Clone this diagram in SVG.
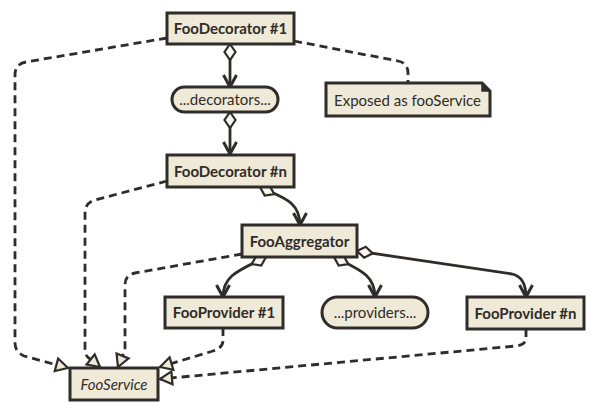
<svg xmlns="http://www.w3.org/2000/svg" width="597" height="412" viewBox="0 0 597 412">
<style>
.box{fill:#EFE9D7;stroke:#2F2C29;stroke-width:3}
.t{font-family:Lato,"Open Sans","Liberation Sans",sans-serif;font-size:15px;fill:#2F2C29;text-anchor:middle}
.b{font-weight:bold}
.dash{fill:none;stroke:#2F2C29;stroke-width:2.8;stroke-dasharray:8,5}
.solid{fill:none;stroke:#2F2C29;stroke-width:2.8}
</style>
<defs>
<marker id="dia" markerUnits="userSpaceOnUse" orient="auto" refX="0" refY="0" markerWidth="20" markerHeight="14" viewBox="-1 -7 20 14" overflow="visible">
<path d="M0,0 L8,-5.5 L16,0 L8,5.5 Z" fill="#FBF8F0" stroke="#2F2C29" stroke-width="2.2" stroke-dasharray="none"/>
</marker>
<marker id="arr" markerUnits="userSpaceOnUse" orient="auto" refX="0" refY="0" markerWidth="16" markerHeight="16" viewBox="-14 -8 16 16" overflow="visible">
<path d="M-12,-6.5 L0,0 L-12,6.5" fill="none" stroke="#2F2C29" stroke-width="3" stroke-linejoin="miter" stroke-dasharray="none"/>
</marker>
<marker id="tri" markerUnits="userSpaceOnUse" orient="auto" refX="0" refY="0" markerWidth="16" markerHeight="16" viewBox="-14 -8 16 16" overflow="visible">
<path d="M0,0 L-12,-6.5 L-12,6.5 Z" fill="#EFE9D7" stroke="#2F2C29" stroke-width="2.2" stroke-dasharray="none"/>
</marker>
</defs>
<g id="connectors">
<path class="dash" d="M167,38 L26,62 Q15,64 15,75 L15,343 Q15,352 24,356 L68,368" marker-end="url(#tri)"/>
<path class="dash" d="M294,41 L398,61 Q408,63 408,73 L408,83"/>
<path class="dash" d="M167,181 L95,200 Q85,203 85,213 L85,350 Q85,356 90,359 L100,367" marker-end="url(#tri)"/>
<path class="dash" d="M242,254 L135,273 Q125,275 125,285 L125,350 L118,367" marker-end="url(#tri)"/>
<path class="dash" d="M223,328 L223,340 Q223,348 213,351 L160,367" marker-end="url(#tri)"/>
<path class="dash" d="M526,329 L526,338 Q526,345 516,346 L160,379" marker-end="url(#tri)"/>
<path class="solid" d="M230,44 L230,87" marker-start="url(#dia)" marker-end="url(#arr)"/>
<path class="solid" d="M230,112 L230,154" marker-start="url(#dia)" marker-end="url(#arr)"/>
<path class="solid" d="M260,187 C280,197 300,200 300,225" marker-start="url(#dia)" marker-end="url(#arr)"/>
<path class="solid" d="M266,257 C240,270 223,275 223,297" marker-start="url(#dia)" marker-end="url(#arr)"/>
<path class="solid" d="M334,257 C360,270 375,275 375,297" marker-start="url(#dia)" marker-end="url(#arr)"/>
<path class="solid" d="M357,251 L512,274 Q526,277 526,297" marker-start="url(#dia)" marker-end="url(#arr)"/>
</g>
<g id="fooDecorator1">
<rect class="box" x="167" y="13" width="127" height="31"/>
<text class="t b" x="230.5" y="34">FooDecorator #1</text>
</g>
<g id="decorators">
<rect class="box" x="172" y="87" width="106" height="25" rx="12.5"/>
<text class="t" x="225" y="105">...decorators...</text>
</g>
<g id="note">
<path class="box" d="M326,83 L482,83 L490,91 L490,116 L326,116 Z"/>
<path d="M482,83 L482,91 L490,91" fill="#2F2C29" stroke="#2F2C29" stroke-width="1.5"/>
<text class="t" x="334" y="105.5" style="text-anchor:start">Exposed as fooService</text>
</g>
<g id="fooDecoratorN">
<rect class="box" x="167" y="155" width="127" height="32"/>
<text class="t b" x="230.5" y="176.5">FooDecorator #n</text>
</g>
<g id="fooAggregator">
<rect class="box" x="242" y="225" width="115" height="32"/>
<text class="t b" x="299.5" y="246.5">FooAggregator</text>
</g>
<g id="fooProvider1">
<rect class="box" x="165" y="297" width="118" height="31"/>
<text class="t b" x="224" y="318">FooProvider #1</text>
</g>
<g id="providers">
<rect class="box" x="322" y="297" width="106" height="31" rx="15.5"/>
<text class="t" x="375" y="318">...providers...</text>
</g>
<g id="fooProviderN">
<rect class="box" x="467" y="297" width="117" height="32"/>
<text class="t b" x="525.5" y="318.5">FooProvider #n</text>
</g>
<g id="fooService">
<rect class="box" x="70" y="368" width="88" height="32"/>
<text class="t" x="114" y="389.5" style="font-style:italic">FooService</text>
</g>
</svg>
